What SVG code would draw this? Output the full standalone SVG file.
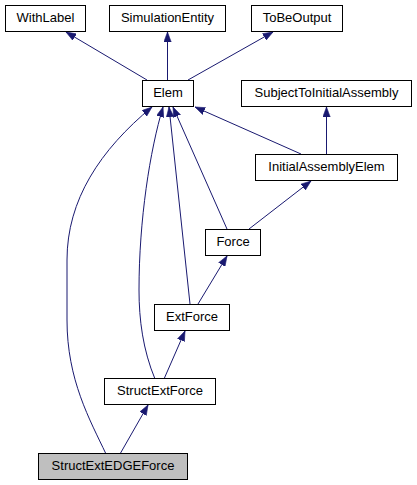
<svg xmlns="http://www.w3.org/2000/svg" width="417" height="485" viewBox="0 0 417 485">
<style>
.n rect{fill:#ffffff;stroke:#000000;stroke-width:1}
.n.cur rect{fill:#bfbfbf}
.n text{font-family:"Liberation Sans",Arial,Helvetica,sans-serif;font-size:13px;text-anchor:middle;fill:#000000}
.e path{fill:none;stroke:#191970;stroke-width:1;marker-end:url(#ah)}
</style>
<defs>
<marker id="ah" markerUnits="userSpaceOnUse" markerWidth="11" markerHeight="8" refX="10" refY="4" orient="auto">
<path d="M0,0.3 L10,4 L0,7.7 z" fill="#191970" stroke="#191970" stroke-width="0.6"/>
</marker>
</defs>
<rect width="417" height="485" fill="#ffffff"/>
<g id="edges" class="e">
<path d="M147,80 L66,32"/>
<path d="M167.5,80 L167.5,32"/>
<path d="M188,80 L273,32"/>
<path d="M326.5,154 L326.5,107"/>
<path d="M301,154 L195,107"/>
<path d="M227,229 L173,107"/>
<path d="M190,304 L169,107"/>
<path d="M155,379 C143,350 139,320 139,290 C139,220 150,150 163,107"/>
<path d="M106,454 C90,420 67,380 67,320 L67,260 C67,200 100,150 152,107"/>
<path d="M249,229 L311,181"/>
<path d="M198,304 L227,256"/>
<path d="M164,379 L185,331"/>
<path d="M120,454 L148,405"/>
</g>
<g id="WithLabel" class="n"><rect x="5.5" y="5.5" width="80" height="26"/><text x="45.5" y="22">WithLabel</text></g>
<g id="SimulationEntity" class="n"><rect x="109.5" y="5.5" width="116" height="26"/><text x="167.5" y="22">SimulationEntity</text></g>
<g id="ToBeOutput" class="n"><rect x="251.5" y="5.5" width="91" height="26"/><text x="297" y="22">ToBeOutput</text></g>
<g id="Elem" class="n"><rect x="142.5" y="80.5" width="51" height="26"/><text x="168" y="97">Elem</text></g>
<g id="SubjectToInitialAssembly" class="n"><rect x="241.5" y="80.5" width="170" height="26"/><text x="326.5" y="97">SubjectToInitialAssembly</text></g>
<g id="InitialAssemblyElem" class="n"><rect x="255.5" y="154.5" width="142" height="26"/><text x="326.5" y="171">InitialAssemblyElem</text></g>
<g id="Force" class="n"><rect x="205.5" y="229.5" width="55" height="26"/><text x="233" y="246">Force</text></g>
<g id="ExtForce" class="n"><rect x="154.5" y="304.5" width="75" height="26"/><text x="192" y="321">ExtForce</text></g>
<g id="StructExtForce" class="n"><rect x="104.5" y="378.5" width="111" height="26"/><text x="160" y="395">StructExtForce</text></g>
<g id="StructExtEDGEForce" class="n cur"><rect x="38.5" y="453.5" width="149" height="26"/><text x="113" y="470">StructExtEDGEForce</text></g>
</svg>
